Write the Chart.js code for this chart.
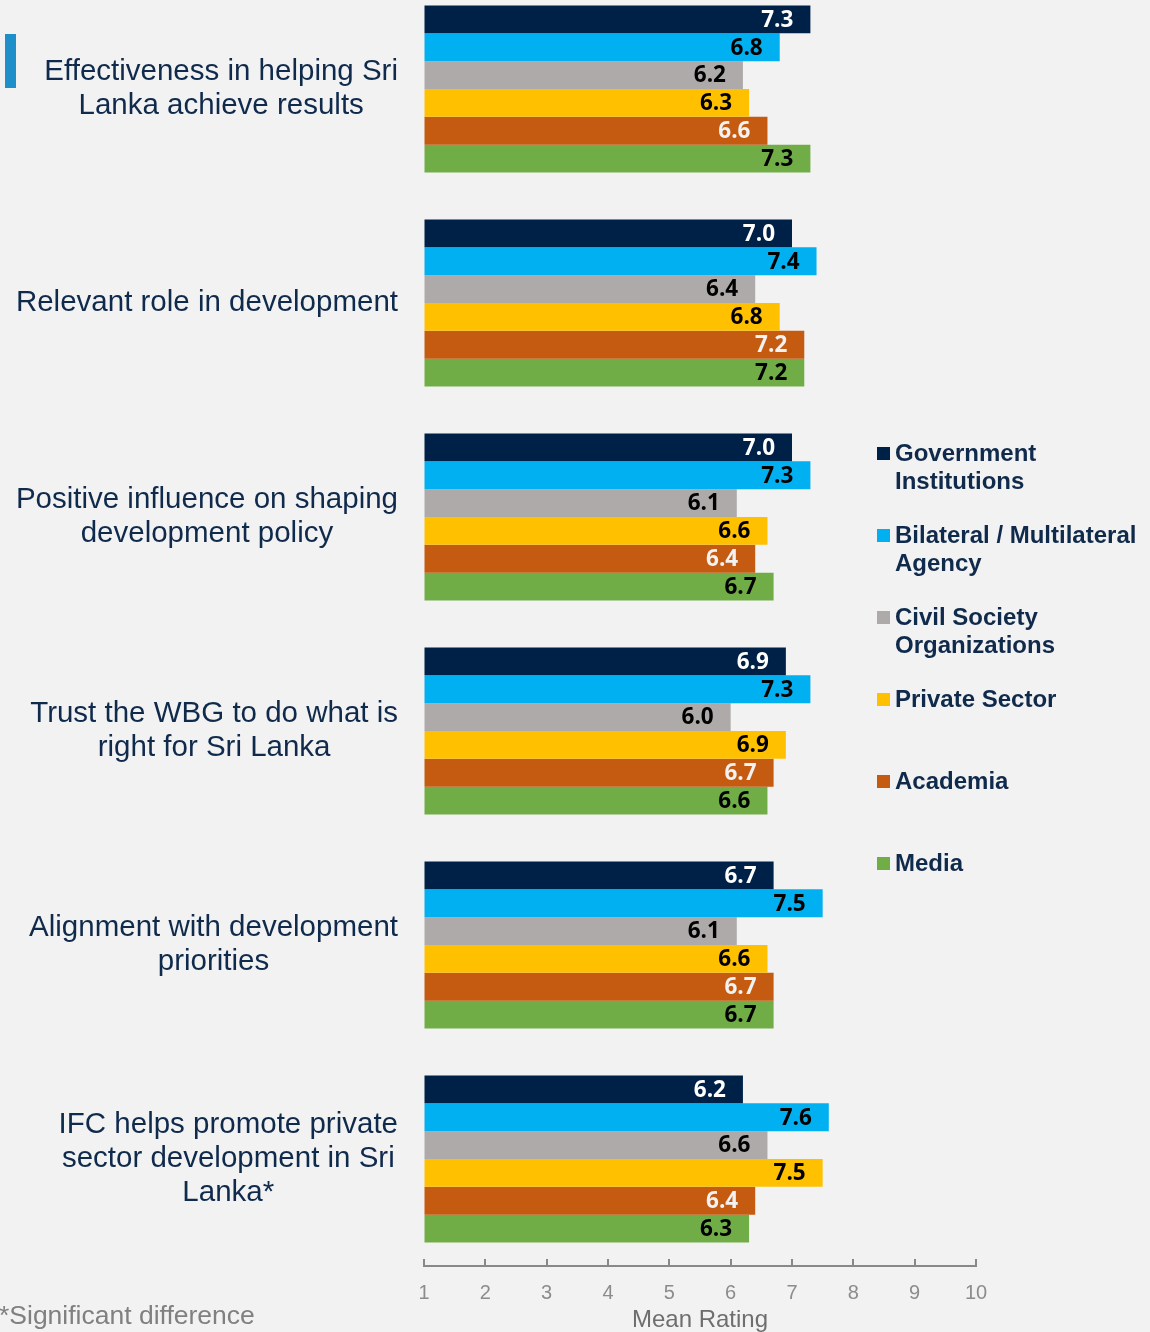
<!DOCTYPE html>
<html>
<head>
<meta charset="utf-8">
<title>Mean rating by stakeholder group</title>
<script src="https://cdn.jsdelivr.net/npm/chart.js@4.4.1/dist/chart.umd.min.js"></script>
<style>
  body { margin: 0; background: #f2f2f2; width: 1150px; height: 1332px; overflow: hidden; position: relative;
         font-family: "Liberation Sans", Arial, sans-serif; }
  #wrap { position: absolute; left: 0; top: -18px; width: 1150px; height: 1353px; }
  .accent { position: absolute; left: 5px; top: 34px; width: 11px; height: 54px; background: #1f8fca; }
  #legend { position: absolute; left: 877px; top: 0; }
  .item { position: absolute; left: 0; white-space: nowrap; font-weight: bold; font-size: 24px; line-height: 28px;
          color: #102a4c; padding-left: 18px; }
  .item i { position: absolute; left: 0; top: 8px; width: 13px; height: 13px; }
  .note { position: absolute; left: -1px; top: 1300px; font-size: 26.5px; line-height: 30px; color: #808080; }
</style>
</head>
<body>
<div class="accent"></div>
<div id="wrap"><canvas id="chart" width="1150" height="1353"></canvas></div>
<div id="legend"></div>
<div class="note">*Significant difference</div>
<script>
// categories (one array of lines per label)
const categories = [
  ['Effectiveness in helping Sri', 'Lanka achieve results'],
  ['Relevant role in development'],
  ['Positive influence on shaping', 'development policy'],
  ['Trust the WBG to do what is', 'right for Sri Lanka'],
  ['Alignment with development', 'priorities'],
  ['IFC helps promote private', 'sector development in Sri', 'Lanka*']
];

const seriesNames = [
  ['Government', 'Institutions'],
  ['Bilateral / Multilateral', 'Agency'],
  ['Civil Society', 'Organizations'],
  ['Private Sector'],
  ['Academia'],
  ['Media']
];

const government = [7.3, 7.0, 7.0, 6.9, 6.7, 6.2];
const bilateral  = [6.8, 7.4, 7.3, 7.3, 7.5, 7.6];
const civil      = [6.2, 6.4, 6.1, 6.0, 6.1, 6.6];
const privateSec = [6.3, 6.8, 6.6, 6.9, 6.6, 7.5];
const academia   = [6.6, 7.2, 6.4, 6.7, 6.7, 6.4];
const media      = [7.3, 7.2, 6.7, 6.6, 6.7, 6.3];

const xTicks = [1, 2, 3, 4, 5, 6, 7, 8, 9, 10];

const seriesData = [government, bilateral, civil, privateSec, academia, media];
const barColors = ['#002147', '#00b0f0', '#aeaaaa', '#ffc000', '#c55a11', '#70ad47'];
const valueColors = ['#ffffff', '#000000', '#000000', '#000000', '#f2f2f2', '#000000'];

// legend
const legend = document.getElementById('legend');
seriesNames.forEach((lines, i) => {
  const d = document.createElement('div');
  d.className = 'item';
  d.style.top = (439 + i * 82) + 'px';
  d.innerHTML = '<i style="background:' + barColors[i] + '"></i>' + lines.join('<br>');
  legend.appendChild(d);
});

const categoryLabels = {
  id: 'categoryLabels',
  afterDraw(chart) {
    const ctx = chart.ctx;
    const y = chart.scales.y;
    ctx.save();
    ctx.font = '29.5px "Liberation Sans", Arial, sans-serif';
    ctx.fillStyle = '#102a4c';
    ctx.textAlign = 'center';
    ctx.textBaseline = 'middle';
    categories.forEach((lines, i) => {
      const cy = y.getPixelForValue(i);
      const maxW = Math.max(...lines.map(l => ctx.measureText(l).width));
      const cx = 398 - maxW / 2;
      lines.forEach((l, j) => {
        ctx.fillText(l, cx, cy + (j - (lines.length - 1) / 2) * 34);
      });
    });
    ctx.restore();
  }
};

const valueLabels = {
  id: 'valueLabels',
  afterDatasetsDraw(chart) {
    const ctx = chart.ctx;
    ctx.save();
    ctx.font = 'bold 22.5px "Open Sans", sans-serif';
    ctx.textAlign = 'right';
    ctx.textBaseline = 'middle';
    chart.data.datasets.forEach((ds, i) => {
      chart.getDatasetMeta(i).data.forEach((bar, j) => {
        ctx.fillStyle = valueColors[i];
        ctx.fillText(ds.data[j].toFixed(1), bar.x - 17, bar.y + 1);
      });
    });
    ctx.restore();
  }
};

// tick marks pointing up from the axis line
const upTicks = {
  id: 'upTicks',
  afterDraw(chart) {
    const ctx = chart.ctx;
    const x = chart.scales.x;
    ctx.save();
    ctx.strokeStyle = '#898989';
    ctx.lineWidth = 2;
    xTicks.forEach(v => {
      const px = Math.round(x.getPixelForValue(v));
      ctx.beginPath();
      ctx.moveTo(px, x.top);
      ctx.lineTo(px, x.top - 7);
      ctx.stroke();
    });
    ctx.restore();
  }
};

new Chart(document.getElementById('chart'), {
  type: 'bar',
  data: {
    labels: categories.map(c => c.join(' ')),
    datasets: seriesData.map((d, i) => ({
      label: seriesNames[i].join(' '),
      data: d,
      base: 1,
      backgroundColor: barColors[i],
      borderWidth: 0,
      categoryPercentage: 0.78,
      barPercentage: 1.0
    }))
  },
  options: {
    indexAxis: 'y',
    responsive: false,
    animation: false,
    layout: { padding: { left: 424, right: 174, top: 0, bottom: 0 } },
    plugins: { legend: { display: false }, tooltip: { enabled: false } },
    scales: {
      y: { display: false },
      x: {
        min: 1,
        max: 10,
        afterFit: s => { s.height = 69; },
        afterBuildTicks: s => { s.ticks = xTicks.map(v => ({ value: v })); },
        border: { color: '#898989', width: 2 },
        grid: { drawOnChartArea: false, drawTicks: false },
        ticks: {
          padding: 15,
          color: '#8c8c8c',
          font: { family: '"Liberation Sans", Arial, sans-serif', size: 20 }
        },
        title: {
          display: true,
          text: 'Mean Rating',
          color: '#6e6e6e',
          padding: { top: 0, bottom: 0 },
          font: { family: '"Liberation Sans", Arial, sans-serif', size: 24 }
        }
      }
    }
  },
  plugins: [categoryLabels, valueLabels, upTicks]
});
</script>
</body>
</html>
